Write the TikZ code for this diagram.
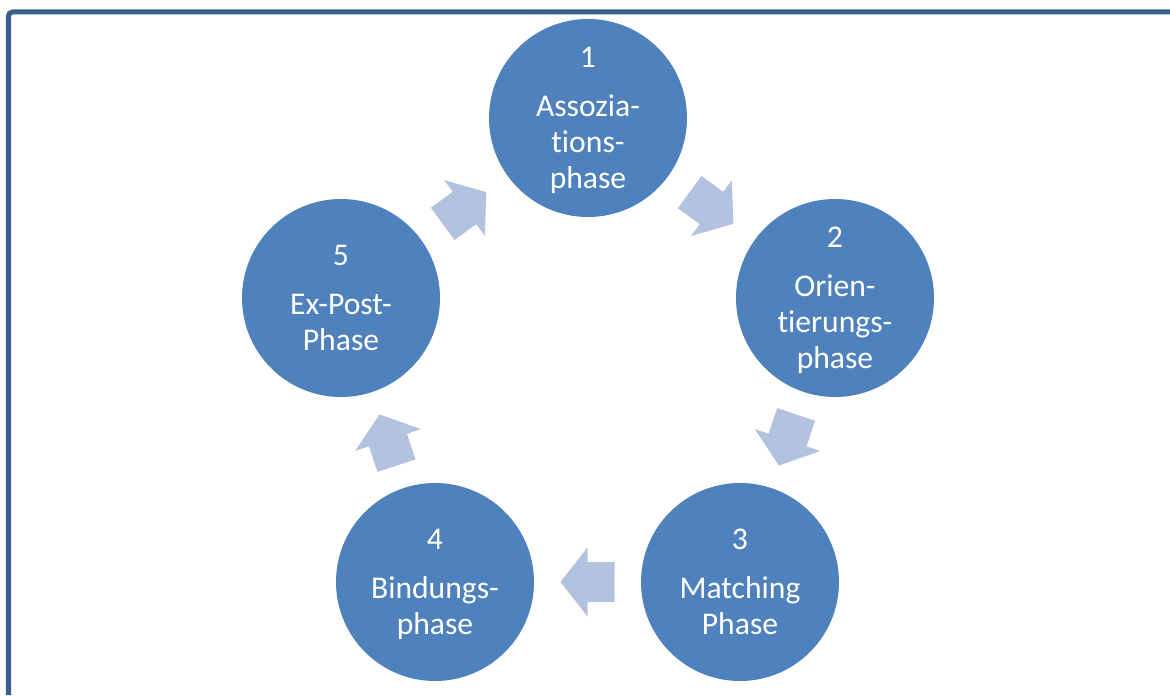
\documentclass[tikz,border=0pt]{standalone}
\usepackage{fontspec}
\setmainfont{Carlito}[Ligatures=NoCommon]
\usetikzlibrary{calc}
\definecolor{phaseblue}{HTML}{4F81BD}
\definecolor{arrowblue}{HTML}{B3C2DE}
\definecolor{framecol}{HTML}{3A5F8E}

\begin{document}
\begin{tikzpicture}[
    phase/.style={circle, fill=phaseblue, text=white, inner sep=0pt,
        minimum size=3.96cm, align=center, text depth=0pt,
        font=\fontsize{18}{20.4}\selectfont},
    cyclearrow/.pic={
        \fill[arrowblue] (-0.54,-0.4) -- (0,-0.4) -- (0,-0.69) -- (0.54,0)
            -- (0,0.69) -- (0,0.4) -- (-0.54,0.4) -- cycle;
    }
]
    \useasboundingbox (0,0) rectangle (23.4,13.9);
    % frame, open at right and bottom
    \draw[framecol, line width=0.1cm, rounded corners=0.08cm]
        (0.17,0) -- (0.17,13.66) -- (23.4,13.66);

    % the five phases of the cycle
    \node[phase] (p1) at (11.76,11.54) {1\\[7.5pt]Assozia-\\tions-\\phase};
    \node[phase] (p2) at (16.70,7.94) {2\\[7.5pt]Orien-\\tierungs-\\phase};
    \node[phase] (p3) at (14.80,2.26) {3\\[7.5pt]Matching\\Phase};
    \node[phase] (p4) at (8.70,2.26) {4\\[7.5pt]Bindungs-\\phase};
    \node[phase] (p5) at (6.82,7.94) {5\\[7.5pt]Ex-Post-\\Phase};

    % block arrows between neighbours
    \foreach \a/\b in {p1/p2, p2/p3, p3/p4, p4/p5, p5/p1}
        \path let \p1=(\a), \p2=(\b), \n1={atan2(\y2-\y1,\x2-\x1)} in
            ($(\a)!0.5!(\b)$) pic[rotate=\n1] {cyclearrow};
\end{tikzpicture}
\end{document}
